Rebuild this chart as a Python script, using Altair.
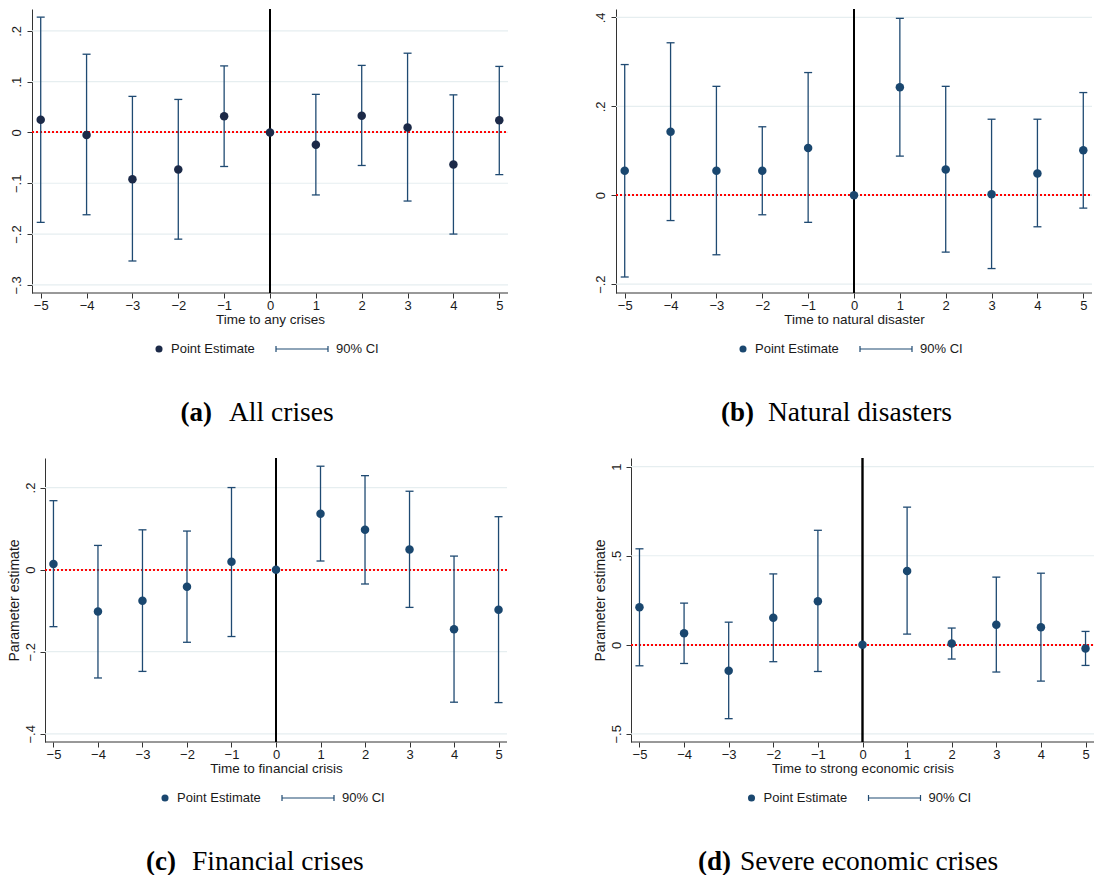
import altair as alt
import pandas as pd

times = [-5, -4, -3, -2, -1, 0, 1, 2, 3, 4, 5]

# (a) All crises
est_a = [0.025, -0.005, -0.092, -0.073, 0.032, 0.0, -0.024, 0.033, 0.010, -0.063, 0.024]
lo_a = [-0.177, -0.162, -0.253, -0.210, -0.067, None, -0.123, -0.065, -0.135, -0.200, -0.083]
hi_a = [0.227, 0.154, 0.071, 0.065, 0.131, None, 0.075, 0.132, 0.156, 0.074, 0.130]

# (b) Natural disasters
est_b = [0.055, 0.143, 0.055, 0.055, 0.106, 0.0, 0.243, 0.058, 0.002, 0.049, 0.101]
lo_b = [-0.184, -0.057, -0.134, -0.044, -0.061, None, 0.088, -0.128, -0.165, -0.071, -0.029]
hi_b = [0.294, 0.343, 0.245, 0.154, 0.276, None, 0.398, 0.245, 0.171, 0.171, 0.231]

# (c) Financial crises
est_c = [0.014, -0.102, -0.076, -0.042, 0.019, 0.0, 0.136, 0.097, 0.049, -0.145, -0.098]
lo_c = [-0.139, -0.264, -0.248, -0.177, -0.163, None, 0.021, -0.035, -0.092, -0.323, -0.324]
hi_c = [0.168, 0.059, 0.097, 0.094, 0.200, None, 0.252, 0.229, 0.191, 0.033, 0.129]

# (d) Severe economic crises
est_d = [0.211, 0.065, -0.146, 0.152, 0.245, 0.0, 0.415, 0.007, 0.112, 0.099, -0.021]
lo_d = [-0.118, -0.105, -0.415, -0.095, -0.150, None, 0.060, -0.080, -0.153, -0.204, -0.116]
hi_d = [0.539, 0.234, 0.127, 0.398, 0.643, None, 0.773, 0.094, 0.380, 0.402, 0.075]

legend_labels = ["Point Estimate", "90% CI"]

SANS = "Liberation Sans"
SERIF = "Liberation Serif"
CI_COLOR = "#1f4a72"
AXIS_COLOR = "#333333"
GRID_COLOR = "#e6eef0"
TXT = "#1a1a1a"
XMIN, XMAX = -5.19, 5.19


def panel(est, lo, hi, xtitle, ytitle, ydom, yticks, letter, caption,
          w, h, pcolor, cap_split, ylabpad, ext=0):
    df = pd.DataFrame({"t": times, "est": est, "lo": lo, "hi": hi})
    ppu = w / (XMAX - XMIN)
    xs = alt.Scale(domain=[XMIN - ext / ppu, XMAX], nice=False, zero=False)
    ys = alt.Scale(domain=ydom, nice=False, zero=False)
    xkw = dict(values=times, grid=False, tickSize=5, labelPadding=1.5,
               titlePadding=0, domain=False, tickColor=AXIS_COLOR,
               labelFont=SANS, titleFont=SANS, labelFontSize=13,
               titleFontSize=13.5, titleFontWeight="normal",
               labelColor=TXT, titleColor=TXT)
    if ext:
        xkw["titleX"] = ext + w / 2
    xax = alt.Axis(**xkw)
    yax = alt.Axis(values=yticks, grid=False, offset=-ext,
                   tickSize=5, labelPadding=ylabpad, titlePadding=3,
                   labelAngle=270, labelAlign="center", labelBaseline="bottom",
                   labelExpr="replace(format(datum.value, '~g'), '0.', '.')",
                   domainColor=AXIS_COLOR, tickColor=AXIS_COLOR,
                   labelFont=SANS, titleFont=SANS, labelFontSize=13,
                   titleFontSize=14, titleFontWeight="normal",
                   labelColor=TXT, titleColor=TXT)
    base = alt.Chart(df)
    x = alt.X("t:Q", scale=xs, axis=xax, title=xtitle)
    if ytitle:
        y = alt.Y("est:Q", scale=ys, axis=yax, title=ytitle)
    else:
        y = alt.Y("est:Q", scale=ys, axis=yax, title=None)

    frame = base.mark_point(opacity=0).encode(x=x, y=y)

    gdf = pd.DataFrame({"v": yticks})
    grid = alt.Chart(gdf).mark_rule(color=GRID_COLOR, strokeWidth=1.2).encode(
        y=alt.Y("v:Q", scale=ys), x=alt.datum(XMIN, scale=xs), x2=alt.datum(XMAX))
    xdomain = alt.Chart(gdf.iloc[[0]]).mark_rule(color=AXIS_COLOR, strokeWidth=1).encode(
        y=alt.datum(ydom[0], scale=ys), x=alt.datum(XMIN, scale=xs), x2=alt.datum(XMAX))

    vline = alt.Chart(df).mark_rule(color="black", strokeWidth=1.2).encode(
        x=alt.datum(0, scale=xs))
    hline = alt.Chart(df).mark_rule(color="#ff0000", strokeWidth=1.3,
                                    strokeDash=[2, 2]).encode(
        y=alt.datum(0, scale=ys), x=alt.datum(XMIN, scale=xs), x2=alt.datum(XMAX))
    ci = base.mark_rule(color=CI_COLOR, strokeWidth=1.3).encode(
        x=alt.X("t:Q", scale=xs), y=alt.Y("lo:Q", scale=ys), y2="hi:Q")
    cap_lo = base.mark_tick(orient="horizontal", size=8, thickness=1.3,
                            color=CI_COLOR, opacity=1).encode(
        x=alt.X("t:Q", scale=xs), y=alt.Y("lo:Q", scale=ys))
    cap_hi = base.mark_tick(orient="horizontal", size=8, thickness=1.3,
                            color=CI_COLOR, opacity=1).encode(
        x=alt.X("t:Q", scale=xs), y=alt.Y("hi:Q", scale=ys))
    pts = base.mark_circle(size=72, opacity=1, color=pcolor).encode(
        x=alt.X("t:Q", scale=xs), y=alt.Y("est:Q", scale=ys))

    # legend below the plot
    leg = pd.DataFrame({"label": legend_labels})
    ly = h + 56
    cx = ext + w / 2
    leg_dot = alt.Chart(leg.iloc[[0]]).mark_circle(size=50, opacity=1, color=pcolor).encode(
        x=alt.value(cx - 111), y=alt.value(ly))
    leg_t1 = alt.Chart(leg.iloc[[0]]).mark_text(align="left", baseline="middle", font=SANS,
                                               fontSize=13, color=TXT).encode(
        x=alt.value(cx - 99), y=alt.value(ly), text="label:N")
    leg_line = alt.Chart(leg.iloc[[1]]).mark_rule(color=CI_COLOR, strokeWidth=1.2).encode(
        x=alt.value(cx + 6), x2=alt.value(cx + 58), y=alt.value(ly))
    leg_c1 = alt.Chart(leg.iloc[[1]]).mark_rule(color=CI_COLOR, strokeWidth=1.2).encode(
        x=alt.value(cx + 6), y=alt.value(ly - 3), y2=alt.value(ly + 3))
    leg_c2 = alt.Chart(leg.iloc[[1]]).mark_rule(color=CI_COLOR, strokeWidth=1.2).encode(
        x=alt.value(cx + 58), y=alt.value(ly - 3), y2=alt.value(ly + 3))
    leg_t2 = alt.Chart(leg.iloc[[1]]).mark_text(align="left", baseline="middle", font=SANS,
                                               fontSize=13, color=TXT).encode(
        x=alt.value(cx + 66), y=alt.value(ly), text="label:N")

    cap = pd.DataFrame({"a": [letter], "b": [caption]})
    cy = h + 119.5
    cap1 = alt.Chart(cap).mark_text(align="right", baseline="middle", font=SERIF,
                                    fontSize=27, fontWeight="bold", color="black").encode(
        x=alt.value(ext + cap_split[0]), y=alt.value(cy), text="a:N")
    cap2 = alt.Chart(cap).mark_text(align="left", baseline="middle", font=SERIF,
                                    fontSize=27.5, color="black").encode(
        x=alt.value(ext + cap_split[1]), y=alt.value(cy), text="b:N")

    return alt.layer(frame, grid, xdomain, hline, vline, ci, cap_lo, cap_hi, pts,
                     leg_dot, leg_t1, leg_line, leg_c1, leg_c2, leg_t2,
                     cap1, cap2).properties(width=w + ext, height=h)


pa = panel(est_a, lo_a, hi_a, "Time to any crises", "", [-0.316, 0.243],
           [-0.3, -0.2, -0.1, 0, 0.1, 0.2], "(a)", "All crises", 476, 284,
           "#1c2a48", (180, 197), 4)
pb = panel(est_b, lo_b, hi_b, "Time to natural disaster", "", [-0.22, 0.419],
           [-0.2, 0, 0.2, 0.4], "(b)", "Natural disasters", 476, 284,
           "#1a476f", (138, 152), 4)
pc = panel(est_c, lo_c, hi_c, "Time to financial crisis", "Parameter estimate",
           [-0.42, 0.272], [-0.4, -0.2, 0, 0.2], "(c)", "Financial crises", 462, 284,
           "#1a476f", (131, 147), 3, ext=13)
pd_ = panel(est_d, lo_d, hi_d, "Time to strong economic crisis", "Parameter estimate",
            [-0.546, 1.049], [-0.5, 0, 0.5, 1], "(d)", "Severe economic crises", 463, 284,
            "#1a476f", (100, 109), 3)

chart = alt.concat(pa, pb, pc, pd_, columns=2, align="none",
                   spacing={"row": 31, "column": 84}).configure(
    padding={"left": 7, "top": 8, "right": 0, "bottom": 0},
    background="white"
).configure_view(stroke=None)

chart.save("out.html", embed_options={"renderer": "svg", "actions": False})
